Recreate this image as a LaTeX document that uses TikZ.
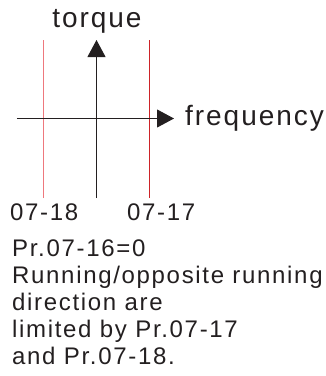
\documentclass[tikz,border=0pt]{standalone}
\usepackage{fontspec}
\setmainfont{Liberation Sans}[LetterSpace=7]
\usetikzlibrary{arrows.meta}
\definecolor{limitpink}{RGB}{238,120,125}
\definecolor{limitred}{RGB}{205,35,40}
\definecolor{ink}{RGB}{35,31,32}
\begin{document}
\begin{tikzpicture}[x=1pt,y=-1pt,>={Triangle[length=17pt,width=18pt]},
  every node/.style={inner sep=0pt,text=ink,font=\fontsize{24}{26.8}\selectfont}]
  \useasboundingbox (0,0) rectangle (326,376);
  \coordinate (yb) at (96.5,198);
  \coordinate (yt) at (96.5,40);
  \coordinate (xl) at (17,118.5);
  \coordinate (xr) at (174,118.5);
  \coordinate (rvb) at (43.5,198);
  \coordinate (rvt) at (43.5,40);
  \coordinate (fwb) at (149.5,198);
  \coordinate (fwt) at (149.5,40);
  \node[anchor=base,font=\fontsize{28}{30}\selectfont] (torque) at (97,27) {torque};
  \node[anchor=base west,font=\fontsize{28}{30}\selectfont] (freq) at (185,125) {frequency};
  \node[anchor=base west] (rev) at (10,220) {07-18};
  \node[anchor=base west] (fwd) at (127,220) {07-17};
  % last line sits on the base anchor
  \node[anchor=base west,align=left] (note) at (12,364)
    {Pr.07-16=0\\Running/opposite running\\direction are\\limited by Pr.07-17\\and Pr.07-18.};
  \draw[draw=limitpink,line width=1.3pt] (rvb) -- (rvt);
  \draw[draw=limitred,line width=1.3pt] (fwb) -- (fwt);
  \draw[->,ink,line width=1pt] (yb) -- (yt);
  \draw[->,ink,line width=1pt] (xl) -- (xr);
\end{tikzpicture}
\end{document}
